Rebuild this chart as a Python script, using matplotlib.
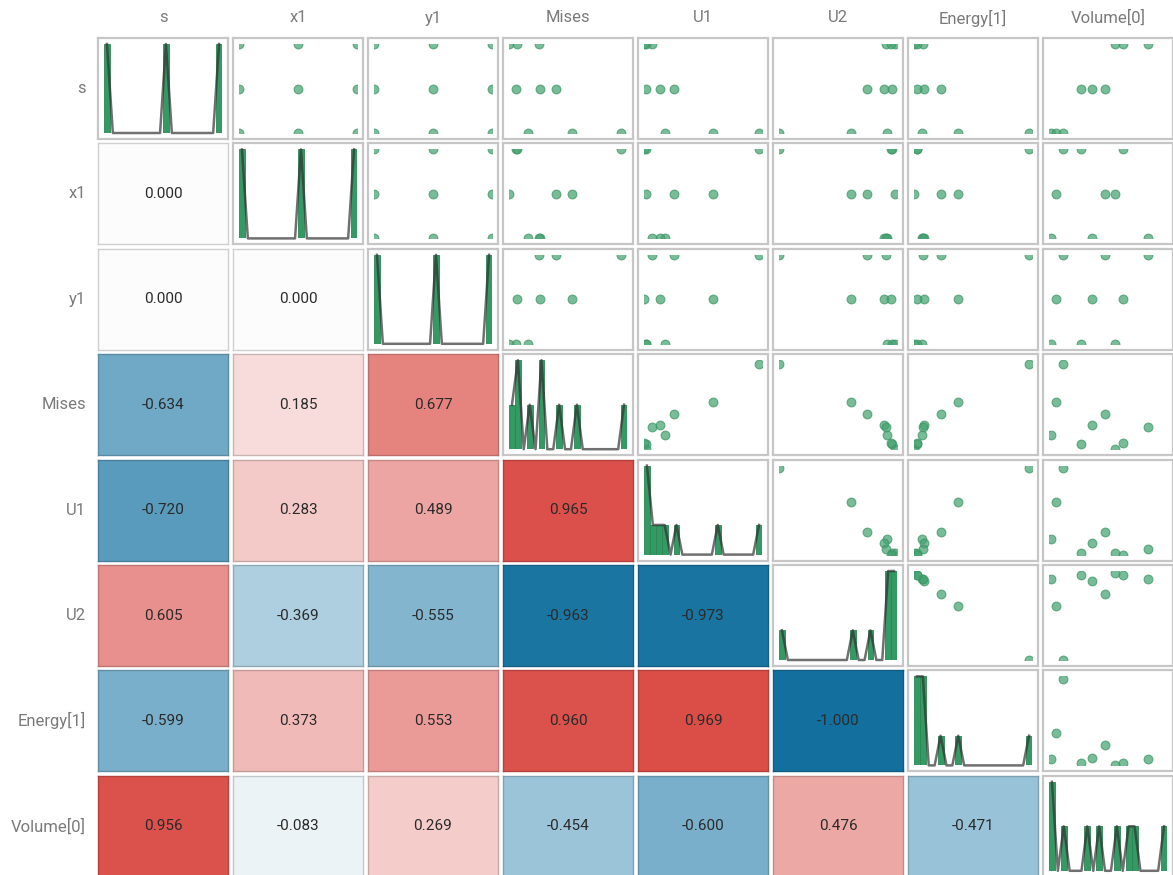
import numpy as np
import matplotlib.pyplot as plt
from matplotlib.colors import LinearSegmentedColormap, Normalize

plt.rcParams['font.family'] = ['Roboto', 'DejaVu Sans']

names = ['s', 'x1', 'y1', 'Mises', 'U1', 'U2', 'Energy[1]', 'Volume[0]']

# nine design points (scaled 0..1)
s      = [0.0, 0.0, 0.0, 0.5, 0.5, 0.5, 1.0, 1.0, 1.0]
x1     = [0.0, 0.5, 1.0, 0.0, 0.5, 1.0, 0.0, 0.5, 1.0]
y1     = [0.0, 0.5, 1.0, 0.5, 1.0, 0.0, 1.0, 0.0, 0.5]
mises  = [0.165, 0.56, 1.0, 0.28, 0.42, 0.062, 0.264, 0.0, 0.071]
u1     = [0.182, 0.606, 1.0, 0.136, 0.258, 0.021, 0.067, 0.015, 0.0]
u2     = [0.93, 0.62, 0.0, 0.91, 0.76, 0.975, 0.925, 1.0, 0.97]
energy = [0.07, 0.38, 1.0, 0.09, 0.24, 0.025, 0.075, 0.0, 0.03]
volume = [0.0, 0.043, 0.116, 0.42, 0.56, 0.31, 1.0, 0.66, 0.74]

cols = [s, x1, y1, mises, u1, u2, energy, volume]

# axis ranges used by the scatter panels
lims = [(0, 1), (0, 1), (0, 1), (0, 1.05), (0, 1.03), (0, 1.02), (0, 1.03), (-0.025, 1.2)]

# correlation values shown in the lower triangle (row by row)
corr_x1     = [0.000]
corr_y1     = [0.000, 0.000]
corr_mises  = [-0.634, 0.185, 0.677]
corr_u1     = [-0.720, 0.283, 0.489, 0.965]
corr_u2     = [0.605, -0.369, -0.555, -0.963, -0.973]
corr_energy = [-0.599, 0.373, 0.553, 0.960, 0.969, -1.000]
corr_volume = [0.956, -0.083, 0.269, -0.454, -0.600, 0.476, -0.471]
corr = [[], corr_x1, corr_y1, corr_mises, corr_u1, corr_u2, corr_energy, corr_volume]

W, H = 1173, 875
fig = plt.figure(figsize=(W / 100, H / 100), dpi=100, facecolor='white')

cmap = LinearSegmentedColormap.from_list(
    'rb', [(0, '#13709e'), (0.25, '#93bfd5'), (0.5, '#fdfdfd'), (1, '#da4a44')])
norm = Normalize(-1, 1)
green = '#339a63'
frame_col = '#c6c6c6'
inset = 6


def rect(x, y, w, h):
    return [x / W, 1 - (y + h) / H, w / W, h / H]


n = len(names)
for i in range(n):
    for j in range(n):
        x0 = 98 + 135 * j
        y0 = 38 + 105.4 * i
        cw, ch = 130, 101
        ax = fig.add_axes(rect(x0, y0, cw, ch))
        ax.set_xticks([])
        ax.set_yticks([])
        if i > j:
            r = corr[i][j]
            c = np.array(cmap(norm(r)))
            ax.set_facecolor(c)
            for sp in ax.spines.values():
                sp.set_color(c[:3] * 0.82)
                sp.set_linewidth(1.0)
            ax.text(0.5, 0.5, f'{r:.3f}', ha='center', va='center',
                    fontsize=11, color='#2a2a2a', transform=ax.transAxes)
            continue

        for sp in ax.spines.values():
            sp.set_color(frame_col)
            sp.set_linewidth(1.6)
        inner = fig.add_axes(rect(x0 + inset, y0 + inset, cw - 2 * inset, ch - 2 * inset))
        inner.set_facecolor('none')
        inner.axis('off')

        if i == j:
            v = np.array(cols[i])
            counts, edges = np.histogram(v, bins=20)
            inner.bar(edges[:-1], counts, width=np.diff(edges), align='edge',
                      color=green, edgecolor='#2c8555', linewidth=0.6)
            centers = (edges[:-1] + edges[1:]) / 2
            inner.plot(centers, counts, color='#333333', lw=1.8, alpha=0.7, clip_on=False)
            inner.set_xlim(edges[0], edges[-1])
            inner.set_ylim(0, counts.max())
        else:
            inner.scatter(cols[j], cols[i], s=40, color='#45a371', alpha=0.72,
                          edgecolors='#3a9464', linewidths=0.8)
            inner.set_xlim(*lims[j])
            inner.set_ylim(*lims[i])

# column and row labels
for j, name in enumerate(names):
    fig.text((98 + 135 * j + 65) / W, 1 - 18 / H, name, ha='center', va='center',
             fontsize=12, color='#7a7a7a')
for i, name in enumerate(names):
    fig.text(86 / W, 1 - (38 + 105.4 * i + 50.5) / H, name, ha='right', va='center',
             fontsize=12, color='#7a7a7a')

fig.savefig('out.png', dpi=100, facecolor='white')
